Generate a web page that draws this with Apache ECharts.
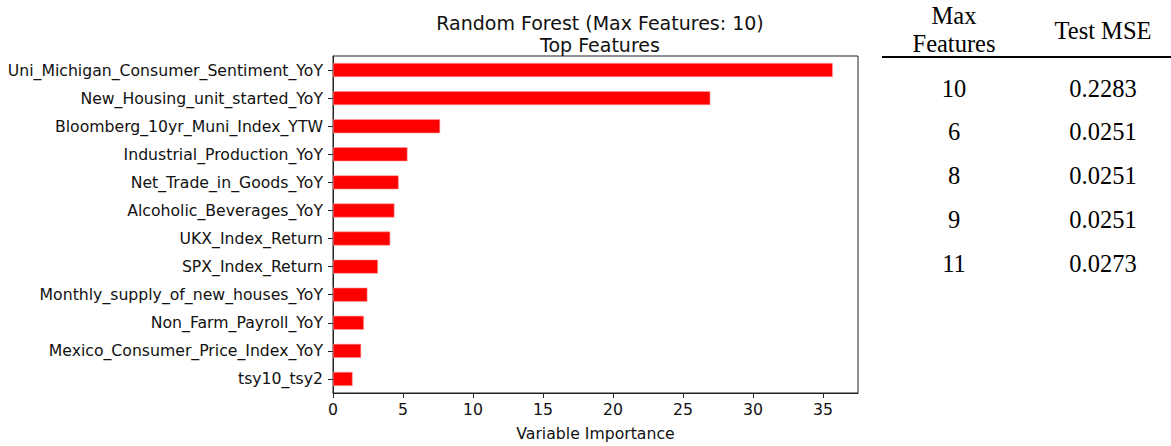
<!DOCTYPE html>
<html>
<head>
<meta charset="utf-8">
<script src="https://cdn.jsdelivr.net/npm/echarts@6/dist/echarts.min.js"></script>
<style>
  html, body { margin: 0; padding: 0; background: #fff; }
  #chart { width: 1171px; height: 446px; }
</style>
</head>
<body>
<div id="chart"></div>
<script>
// ---- Data (top to bottom as shown) ----
const features = [
  "Uni_Michigan_Consumer_Sentiment_YoY",
  "New_Housing_unit_started_YoY",
  "Bloomberg_10yr_Muni_Index_YTW",
  "Industrial_Production_YoY",
  "Net_Trade_in_Goods_YoY",
  "Alcoholic_Beverages_YoY",
  "UKX_Index_Return",
  "SPX_Index_Return",
  "Monthly_supply_of_new_houses_YoY",
  "Non_Farm_Payroll_YoY",
  "Mexico_Consumer_Price_Index_YoY",
  "tsy10_tsy2"
];
const importance = [35.7, 26.95, 7.65, 5.32, 4.69, 4.39, 4.09, 3.21, 2.46, 2.21, 2.01, 1.40];
const xTicks = [0, 5, 10, 15, 20, 25, 30, 35];

const chartTitle = "Random Forest (Max Features: 10)\nTop Features";
const xAxisName = "Variable Importance";

const tableHeaders = ["Max\nFeatures", "Test MSE"];
const tableMaxFeatures = ["10", "6", "8", "9", "11"];
const tableTestMSE = ["0.2283", "0.0251", "0.0251", "0.0251", "0.0273"];

// ---- Table graphics ----
const serif = "'Liberation Serif', 'Times New Roman', serif";
const tblFont = 24.5;
const col1X = 954, col2X = 1103;
const rowY0 = 88, rowStep = 43.8;
const graphics = [];
graphics.push({
  type: 'text', style: {
    text: tableHeaders[0], x: col1X, y: 29, fill: '#000', font: tblFont + 'px ' + serif,
    textAlign: 'center', textVerticalAlign: 'middle', lineHeight: 28
  }
});
graphics.push({
  type: 'text', style: {
    text: tableHeaders[1], x: col2X, y: 30, fill: '#000', font: tblFont + 'px ' + serif,
    textAlign: 'center', textVerticalAlign: 'middle'
  }
});
graphics.push({
  type: 'line', shape: { x1: 882, y1: 57, x2: 1171, y2: 57 },
  style: { stroke: '#000', lineWidth: 2 }
});
tableMaxFeatures.forEach((v, i) => {
  graphics.push({
    type: 'text', style: {
      text: v, x: col1X, y: rowY0 + i * rowStep, fill: '#000', font: tblFont + 'px ' + serif,
      textAlign: 'center', textVerticalAlign: 'middle'
    }
  });
  graphics.push({
    type: 'text', style: {
      text: tableTestMSE[i], x: col2X, y: rowY0 + i * rowStep, fill: '#000', font: tblFont + 'px ' + serif,
      textAlign: 'center', textVerticalAlign: 'middle'
    }
  });
});

const sans = "'DejaVu Sans', sans-serif";
const chart = echarts.init(document.getElementById('chart'), null, { renderer: 'svg' });
chart.setOption({
  backgroundColor: '#fff',
  animation: false,
  title: {
    text: chartTitle,
    left: 595, top: 7, textAlign: 'center',
    textStyle: { fontFamily: sans, fontSize: 19, fontWeight: 'normal', color: '#111', lineHeight: 22 }
  },
  grid: {
    left: 333, right: 313, top: 56, bottom: 51,
    show: true, borderColor: '#222', borderWidth: 1, backgroundColor: 'transparent'
  },
  xAxis: {
    type: 'value', min: 0, max: 37.5, interval: 5,
    name: xAxisName, nameLocation: 'middle', nameGap: 32,
    nameTextStyle: { fontFamily: sans, fontSize: 15.7, color: '#111' },
    axisLine: { show: true, lineStyle: { color: '#222', width: 1 } },
    axisTick: { show: true, length: 5, customValues: xTicks, lineStyle: { color: '#222' } },
    axisLabel: {
      fontFamily: sans, fontSize: 15.7, color: '#111', margin: 8, customValues: xTicks
    },
    splitLine: { show: false }
  },
  yAxis: {
    type: 'category', data: features, inverse: true,
    axisLine: { show: true, lineStyle: { color: '#222', width: 1 } },
    axisTick: { show: true, length: 5, alignWithLabel: true, lineStyle: { color: '#222' } },
    axisLabel: { fontFamily: sans, fontSize: 15.7, color: '#111', margin: 10 },
    splitLine: { show: false }
  },
  series: [{
    type: 'bar', data: importance, barWidth: '50%',
    itemStyle: { color: '#ff0000', borderColor: '#ff9a9a', borderWidth: 0.6 }
  }],
  graphic: graphics
});
</script>
</body>
</html>
